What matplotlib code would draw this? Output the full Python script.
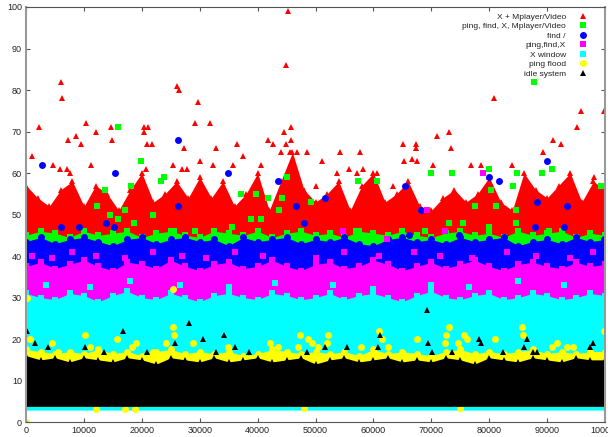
import matplotlib
matplotlib.use("Agg")
import matplotlib.pyplot as plt

plt.rcParams['font.family'] = ['Liberation Sans', 'DejaVu Sans']

# ---- series labels / colours (legend order = draw order) ----
labels = ["X + Mplayer/Video", "ping, find, X, Mplayer/Video", "find /",
          "ping,find,X", "X window", "ping flood", "idle system"]

# ---- dense band envelopes (upper edge of each point cloud) ----
red_bx = [0, 2000, 4000, 6000, 8000, 10000, 12000, 14000, 16000, 18000, 20000,
          22000, 24000, 26000, 28000, 30000, 32000, 34000, 36000, 38000, 40000,
          42000, 44000, 46000, 48000, 50000, 52000, 54000, 56000, 58000, 60000,
          62000, 64000, 66000, 68000, 70000, 72000, 74000, 76000, 78000, 80000,
          82000, 84000, 86000, 88000, 90000, 92000, 94000, 96000, 98000, 100000]
red_top = [57, 54, 52, 56, 58, 52, 57, 55, 51, 56, 60,
           53, 55, 58, 54, 59, 54, 58, 52, 55, 60,
           51, 58, 65, 56, 53, 55, 58, 51, 57, 60,
           53, 55, 58, 52, 51, 54, 56, 53, 55, 59,
           53, 51, 60, 56, 54, 57, 60, 53, 58, 56]

bx = [0, 2500, 5000, 7500, 10000, 12500, 15000, 17500, 20000, 22500, 25000,
      27500, 30000, 32500, 35000, 37500, 40000, 42500, 45000, 47500, 50000,
      52500, 55000, 57500, 60000, 62500, 65000, 67500, 70000, 72500, 75000,
      77500, 80000, 82500, 85000, 87500, 90000, 92500, 95000, 97500, 100000]
green_top = [45, 46, 45.5, 44.5, 46, 45, 45.5, 46, 44.5, 45.5, 46, 45, 44.5, 46,
             45.5, 45, 46, 44.5, 45.5, 46, 45, 45.5, 44.5, 46, 45.5, 45, 46, 45,
             44.5, 45.5, 46, 45, 45.5, 44.5, 46, 45, 45.5, 46, 44.5, 45.5, 45]
blue_top = [43.5, 44.5, 43, 44, 44.5, 43.5, 42.5, 44, 44.5, 43, 44, 44.5, 43.5,
            44, 42.5, 44.5, 43.5, 44, 44.5, 43, 44, 43.5, 44.5, 43, 42.5, 44,
            44.5, 43.5, 44, 43, 44.5, 43.5, 44, 44.5, 42.5, 43.5, 44, 43, 44.5,
            43.5, 44]
magenta_top = [37.5, 38.5, 37, 38, 39, 37.5, 36.5, 38.5, 38, 37, 39, 37.5, 36.5,
               38, 38.5, 37, 37.5, 39, 37.5, 36.5, 38, 38.5, 37, 37.5, 39, 38,
               36.5, 37.5, 38.5, 37, 38, 39, 37.5, 36.5, 38, 38.5, 37.5, 37, 38.5,
               37.5, 38]
cyan_top = [31, 30, 29.5, 31, 30.5, 29, 30.5, 31.5, 30, 29.5, 31, 30, 29, 30.5,
            31, 30, 29.5, 31, 30.5, 29.5, 30, 31, 29.5, 30.5, 31, 30, 29, 30.5,
            31.5, 30, 29.5, 30.5, 31, 29.5, 30, 31, 30.5, 29.5, 30, 31, 30.5]
yellow_top = [17.5, 17, 16.5, 17, 16.5, 17.5, 16.5, 17, 16, 17, 17.5, 16.5, 17,
              16.5, 17, 16, 16.5, 17.5, 17, 16.5, 17, 16.5, 17, 16, 17.5, 16.5,
              17, 16.5, 16, 17, 17.5, 16.5, 17, 16.5, 17, 17.5, 16.5, 17, 16.5,
              17, 17]
black_top = [16, 15, 15.5, 14.5, 15.5, 15, 14.5, 15.5, 15, 14, 15.5, 15, 14.5,
             15.5, 14.5, 15, 15.5, 14.5, 15, 15.5, 14, 15, 15.5, 14.5, 15, 15.5,
             14.5, 15, 14.5, 15.5, 15, 14, 15.5, 15, 14.5, 15.5, 15, 14.5, 15.5,
             15, 15]
# lower edges of the clouds
red_floor, green_floor, blue_floor, magenta_floor = 3.3, 3.3, 3.3, 3.3
cyan_floor, yellow_floor, black_floor = 2.9, 3.8, 3.8

# ---- individual points outside / inside the bands ----
red_x = [2250, 6100, 6200, 7300, 8640, 9500, 10360, 12100, 14700, 14850, 20400,
         20430, 21100, 20900, 21700, 26000, 26400, 27350, 29250, 29700, 31720,
         32800, 36400, 41850, 42650, 44550, 44850, 44850, 45250, 45700, 45700,
         65150, 80900, 95850, 99770, 95100, 73000, 71000, 67350, 67350, 73350,
         90950, 92450, 89350, 66650, 65300, 67500, 76800, 78500, 70300, 30050,
         37400, 44000, 45600, 46750, 48500, 51200, 54250, 57750, 40550, 35800,
         32250, 53750, 55700, 57100, 58250, 60650, 63450, 50000, 980, 4660,
         5870, 7030, 7600, 11200, 20700, 26900, 27750, 25450, 98150, 84000]
red_y = [71, 82, 78, 68, 69, 67, 72, 70, 71, 68, 71,
         70, 71, 67, 67, 81, 80, 66, 72, 77, 72,
         66, 67, 68, 67, 70, 67, 86, 99, 71, 68,
         67, 78, 75, 75, 71, 70, 69, 67, 66, 66,
         68, 67, 65, 63.4, 63, 63, 62, 62, 62, 63,
         64, 65, 65, 65, 65, 63, 65, 65, 62, 62,
         62, 60, 61, 60, 61, 60, 57, 57, 64, 62,
         61, 61, 60, 62, 61, 61, 61, 62, 59, 62]

green_x = [15800, 87800, 69950, 73600, 80000, 84750, 89200, 90900, 80250, 84150,
           99250, 77600, 81100, 84600, 73050, 75400, 84600, 80000, 68950, 90250,
           45000, 37200, 39700, 41850, 44150, 49150, 43750, 38800, 40600, 57350,
           60650, 35650, 56950, 19900, 13700, 18200, 23250, 23850, 12250, 17150,
           14450, 15950, 21900, 18650, 25550, 29250, 9500,
           3000, 7000, 10500, 16500, 21000, 25000, 28000, 33000, 37000, 42000,
           48500, 53000, 58000, 63000, 69000, 73500, 79000, 84000, 90500, 95500,
           5000, 13500, 19000, 31000, 39000, 46000, 51000, 61000, 66000, 77000,
           87000, 98000]
green_y = [71, 82, 60, 60, 61, 60, 60, 61, 56, 57,
           57, 52, 52, 51, 48, 48, 48, 47, 46, 46,
           59, 55, 55, 54, 54, 53, 51, 49, 49, 58,
           58, 47, 46, 63, 56, 57, 58, 59, 52, 51,
           50, 49, 50, 48, 46, 46, 43,
           42, 41.5, 43, 42, 41, 43, 42, 41.5, 43, 42,
           41, 43, 42, 41.5, 43, 42, 41, 43, 42, 41.5,
           40, 41, 40.5, 40, 40.5, 41, 40, 40.5, 40, 41,
           40.5, 40]

blue_x = [26250, 90000, 80000, 81700, 65450, 88300, 93500, 68300, 87900, 93000,
          66200, 74700, 99800, 34950, 43450, 51600, 46700, 48000, 2800, 15400,
          26300, 6050, 9150, 13800, 15250,
          2000, 6000, 9000, 14000, 15500, 19500, 20500, 24000, 29000, 32500,
          34500, 38500, 40000, 45500, 47000, 52000, 56000, 59000, 64500, 66000,
          68500, 71000, 76000, 78500, 82000, 86000, 89000, 92000, 96000, 99500]
blue_y = [68, 63, 59, 58, 57, 53, 52, 51, 47, 47,
          45, 45, 44, 60, 58, 54, 52, 48, 62, 60,
          52, 47, 47, 48, 47,
          36, 35, 37, 36, 35, 36, 35, 37, 35, 36,
          35, 36, 35, 36, 35, 36, 35, 37, 36, 35,
          36, 35, 36, 35, 36, 35, 36, 35, 36, 35]

magenta_x = [79000, 69300, 72300, 54700, 62300,
             1000, 4500, 8000, 12000, 17000, 22000, 27000, 31000, 36000, 41000,
             50000, 55000, 61000, 67000, 71500, 77000, 83000, 88000, 94000, 98000]
magenta_y = [60, 51, 46, 46, 44,
             40, 39.5, 41, 40, 39.5, 41, 40, 39.5, 41, 40,
             39.5, 41, 40, 41, 40, 39.5, 41, 40, 39.5, 41]

cyan_x = [3500, 11000, 18000, 26500, 35000, 43000, 53000, 60000, 70000, 76500,
          85000, 93000]
cyan_y = [33, 32.5, 34, 33, 32.5, 33.5, 33, 32, 33, 32.5, 34, 33]

yellow_x = [0, 100, 25450, 10100, 15650, 4550, 700, 25300, 25550, 28900, 11050,
            18250, 19000, 24200, 22000, 5470, 47300, 52150, 60950, 61500, 48750,
            49350, 51950, 42150, 47050, 50500, 57800, 62550, 43550, 34950, 73000,
            85650, 72500, 75650, 76100, 85800, 67500, 81000, 99800, 72350, 74550,
            90800, 91650, 93400, 94550, 12000, 17000, 18800, 48000, 75000]
yellow_y = [0, 30, 32, 21, 20, 19, 20, 23, 21, 19, 18,
            18, 19, 19, 17, 17, 21, 21, 22, 20, 20,
            19, 19, 19, 18, 18, 18, 18, 18, 18, 23,
            23, 21, 21, 20, 21, 20, 20, 22, 19, 19,
            18, 19, 18, 18, 3.2, 3.2, 3.2, 3.3, 3.3]

black_x = [0, 100, 16650, 28050, 1600, 3750, 10250, 13500, 20850, 25750, 30500,
           34250, 36100, 38550, 32750, 48450, 51650, 55400, 61150, 60850, 69300,
           69500, 78250, 78600, 86600, 86000, 97900, 97400, 87600, 88200, 82300,
           73500, 70200]
black_y = [0, 22, 22, 24, 19, 18, 18, 17, 17, 19, 20,
           21, 18, 17, 17, 17, 18, 18, 21, 18, 27,
           19, 20, 19, 20, 18, 19, 18, 17, 17, 17,
           17, 17]

xticks = [0, 10000, 20000, 30000, 40000, 50000, 60000, 70000, 80000, 90000, 100000]
yticks = [0, 10, 20, 30, 40, 50, 60, 70, 80, 90, 100]

series = [
    (labels[0], "#ff0000", "^", 4.6, red_bx, red_top, red_floor, red_x, red_y),
    (labels[1], "#00ff00", "s", 4.6, bx, green_top, green_floor, green_x, green_y),
    (labels[2], "#0000ff", "o", 5.0, bx, blue_top, blue_floor, blue_x, blue_y),
    (labels[3], "#ff00ff", "s", 4.6, bx, magenta_top, magenta_floor, magenta_x, magenta_y),
    (labels[4], "#00ffff", "s", 4.6, bx, cyan_top, cyan_floor, cyan_x, cyan_y),
    (labels[5], "#ffff00", "o", 5.0, bx, yellow_top, yellow_floor, yellow_x, yellow_y),
    (labels[6], "#000000", "^", 4.6, bx, black_top, black_floor, black_x, black_y),
]

fig = plt.figure(figsize=(6.08, 4.37), dpi=100)
ax = fig.add_axes([0.043, 0.034, 0.952, 0.950])

for z, (lab, col, mk, ms, ex, top, floor, px, py) in enumerate(series):
    zo = 2 + z
    # dense cloud
    ax.fill_between(ex, floor, top, color=col, lw=0, zorder=zo)
    ax.plot(ex, top, ls='none', marker=mk, ms=ms, mfc=col, mec=col, mew=0, zorder=zo)
    # single points
    ax.plot(px, py, ls='none', marker=mk, ms=ms, mfc=col, mec=col, mew=0,
            label=lab, zorder=zo)

ax.set_xlim(0, 100000)
ax.set_ylim(0, 100)
ax.set_xticks(xticks)
ax.set_yticks(yticks)
ax.set_xticklabels([str(t) for t in xticks])
ax.tick_params(direction='in', top=True, right=True, length=3, width=0.8,
               labelsize=6.5, labelcolor='#222222', color='#555555', pad=3)
for s in ax.spines.values():
    s.set_color('#555555')
    s.set_linewidth(0.8)
    s.set_zorder(20)
ax.spines['left'].set_color('#999999')
ax.spines['left'].set_linewidth(1.5)
ax.spines['right'].set_color('#999999')
ax.spines['right'].set_linewidth(1.5)

leg = ax.legend(loc='upper right', bbox_to_anchor=(0.98, 1.0), frameon=False,
                markerfirst=False, fontsize=6, handlelength=1.0, handletextpad=1.6,
                labelspacing=0.2, borderpad=0.2, numpoints=1)
for t in leg.get_texts():
    t.set_color('#222222')
leg.set_zorder(30)

fig.savefig("out.png", dpi=100)
